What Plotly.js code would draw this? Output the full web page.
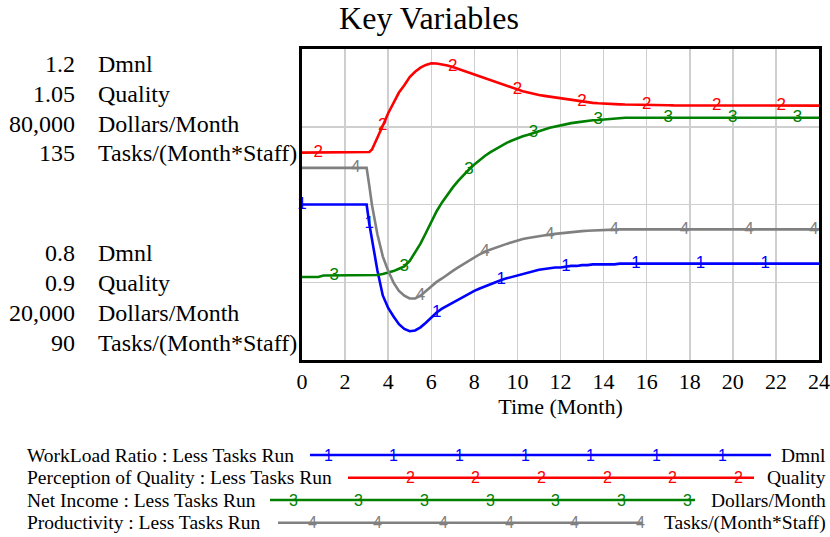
<!DOCTYPE html>
<html>
<head>
<meta charset="utf-8">
<script src="https://cdn.plot.ly/plotly-3.0.1.min.js"></script>
<style>html,body{margin:0;padding:0;background:#fff;}#chart{width:830px;height:537px;}</style>
</head>
<body>
<div id="chart"></div>
<script>
// ---- DATA ----
const time = [0,0.25,0.5,0.75, 1,1.25,1.5,1.75, 2,2.25,2.5,2.75, 3,3.125,3.25,3.5,3.75,
  4,4.25,4.5,4.75, 5,5.25,5.5,5.75, 6,6.25,6.5,6.75, 7,7.25,7.5,7.75, 8,8.25,8.5,8.75,
  9,9.25,9.5,9.75, 10,10.25,10.5,10.75, 11,11.25,11.5,11.75, 12,12.25,12.5,12.75,
  13,13.25,13.5,13.75, 14,14.25,14.5,14.75, 15,15.25,15.5,15.75, 16,16.25,16.5,16.75,
  17,17.25,17.5,17.75, 18,18.25,18.5,18.75, 19,19.25,19.5,19.75, 20,20.25,20.5,20.75,
  21,21.25,21.5,21.75, 22,22.25,22.5,22.75, 23,23.25,23.5,23.75, 24];

const workloadRatio = [1,1,1,1, 1,1,1,1, 1,1,1,1, 1,0.975,0.954,0.915,0.883,
  0.867,0.856,0.846,0.840, 0.837,0.838,0.842,0.848, 0.855,0.861,0.866,0.870,
  0.874,0.877,0.881,0.885, 0.889,0.892,0.895,0.898, 0.900,0.903,0.905,0.907,
  0.909,0.911,0.913,0.914, 0.916,0.917,0.918,0.919, 0.919,0.920,0.921,0.921,
  0.922,0.922,0.923,0.923, 0.923,0.923,0.923,0.924, 0.924,0.924,0.924,0.924,
  0.924,0.924,0.924,0.924, 0.924,0.924,0.924,0.924, 0.924,0.924,0.924,0.924,
  0.924,0.924,0.924,0.924, 0.924,0.924,0.924,0.924, 0.924,0.924,0.924,0.924,
  0.924,0.924,0.924,0.924, 0.924,0.924,0.924,0.924, 0.924];

const perceivedQuality = [1,1,1,1, 1,1,1,1, 1,1,1,1, 1,1.0003,1.0015,1.007,1.013,
  1.019,1.024,1.029,1.0325, 1.0365,1.039,1.041,1.0423, 1.0431,1.043,1.0426,1.042,
  1.0413,1.0404,1.0393,1.0383, 1.0375,1.0366,1.0358,1.035, 1.0341,1.0331,1.0322,1.0312,
  1.0303,1.0296,1.029,1.0283, 1.0278,1.0274,1.027,1.0266, 1.0262,1.0258,1.0254,1.025,
  1.0247,1.0243,1.024,1.0238, 1.0236,1.0235,1.0234,1.0233, 1.0232,1.0232,1.0231,1.0231,
  1.023,1.023,1.023,1.0229, 1.0229,1.0228,1.0228,1.0228, 1.0227,1.0227,1.0227,1.0227,
  1.0227,1.0227,1.0227,1.0227, 1.0227,1.0227,1.0227,1.0227, 1.0227,1.0227,1.0227,1.0227,
  1.0227,1.0227,1.0227,1.0227, 1.0227,1.0227,1.0227,1.0227, 1.0227];

const netIncome = [36000,36000,36000,36000, 36300,36300,36300,36300, 36300,36300,36300,36300,
  36300,36300,36300,36400,36600,
  36850,37150,37600,38050, 39100,40700,42450,44500, 46600,48700,50400,51900,
  53300,54550,55700,56750, 57700,58600,59400,60100, 60750,61350,61900,62350,
  62800,63150,63450,63750, 64100,64450,64800,65050, 65300,65500,65700,65850,
  66000,66150,66250,66300, 66400,66450,66500,66600, 66750,66750,66750,66750,
  66750,66750,66750,66750, 66750,66750,66750,66750, 66750,66750,66750,66750,
  66750,66750,66750,66750, 66750,66750,66750,66750, 66750,66750,66750,66750,
  66750,66750,66750,66750, 66750,66750,66750,66750, 66750];

const productivity = [117.8,117.8,117.8,117.8, 117.8,117.8,117.8,117.8, 117.8,117.8,117.8,117.8,
  117.8,115.2,112.4,108.2,105.0,
  102.9,101.2,100.0,99.3, 98.9,98.9,99.3,100.0, 100.7,101.3,101.8,102.4,
  102.9,103.4,103.9,104.4, 104.9,105.3,105.7,106.0, 106.3,106.6,106.8,107.05,
  107.3,107.5,107.65,107.8, 107.95,108.05,108.15,108.25, 108.35,108.45,108.5,108.6,
  108.65,108.7,108.75,108.8, 108.8,108.85,108.85,108.9, 108.9,108.9,108.9,108.9,
  108.9,108.9,108.9,108.9, 108.9,108.9,108.9,108.9, 108.9,108.9,108.9,108.9,
  108.9,108.9,108.9,108.9, 108.9,108.9,108.9,108.9, 108.9,108.9,108.9,108.9,
  108.9,108.9,108.9,108.9, 108.9,108.9,108.9,108.9, 108.9];

const seriesNames = ["WorkLoad Ratio : Less Tasks Run", "Perception of Quality : Less Tasks Run",
  "Net Income : Less Tasks Run", "Productivity : Less Tasks Run"];
const seriesUnits = ["Dmnl", "Quality", "Dollars/Month", "Tasks/(Month*Staff)"];
const seriesTags = ["1", "2", "3", "4"];
const axisMax = [1.2, 1.05, 80000, 135];
const axisMin = [0.8, 0.9, 20000, 90];
const axisMaxLabels = ["1.2", "1.05", "80,000", "135"];
const axisMinLabels = ["0.8", "0.9", "20,000", "90"];
const markTimes = [
  [0, 3.125, 6.25, 9.25, 12.25, 15.5, 18.5, 21.5],
  [0.75, 3.75, 7, 10, 13, 16, 19.25, 22.25],
  [1.5, 4.75, 7.75, 10.75, 13.75, 17, 20, 23],
  [2.5, 5.5, 8.5, 11.5, 14.5, 17.75, 20.75, 23.75]
];
const xTicks = [0,2,4,6,8,10,12,14,16,18,20,22,24];

// ---- STYLE ----
const colors = ["#0000ff", "#ff0000", "#008000", "#808080"];
const serif = "Liberation Serif";
const sans = "Liberation Sans";
const values = [workloadRatio, perceivedQuality, netIncome, productivity];
const yRefs = ["y", "y2", "y3", "y4"];

// plot area in pixels
const L = 302, R = 819, T = 49, B = 360;
const PX = p => (p - L) / (R - L);
const PY = p => (B - p) / (B - T);

const traces = [];
for (let k = 0; k < 4; k++) {
  traces.push({
    x: time, y: values[k], type: "scatter", mode: "lines",
    line: {color: colors[k], width: 2.6},
    yaxis: yRefs[k], hoverinfo: "skip", showlegend: false
  });
}
for (let k = 0; k < 4; k++) {
  traces.push({
    x: markTimes[k],
    y: markTimes[k].map(t => values[k][time.indexOf(t)]),
    type: "scatter", mode: "text",
    text: markTimes[k].map(() => seriesTags[k]),
    textposition: "middle center",
    textfont: {family: sans, size: 17, color: colors[k]},
    cliponaxis: false,
    yaxis: yRefs[k], hoverinfo: "skip", showlegend: false
  });
}

const annotations = [];
const shapes = [];
// left axis labels
const topY = [64, 94, 123.5, 153];
const botY = [253, 283, 313, 343];
for (let k = 0; k < 4; k++) {
  annotations.push({xref: "paper", yref: "paper", x: PX(77), y: PY(topY[k]), xanchor: "right", yanchor: "middle",
    text: axisMaxLabels[k], showarrow: false, font: {family: serif, size: 24, color: "#000"}});
  annotations.push({xref: "paper", yref: "paper", x: PX(96), y: PY(topY[k]), xanchor: "left", yanchor: "middle",
    text: seriesUnits[k], showarrow: false, font: {family: serif, size: 24, color: "#000"}});
  annotations.push({xref: "paper", yref: "paper", x: PX(77), y: PY(botY[k]), xanchor: "right", yanchor: "middle",
    text: axisMinLabels[k], showarrow: false, font: {family: serif, size: 24, color: "#000"}});
  annotations.push({xref: "paper", yref: "paper", x: PX(96), y: PY(botY[k]), xanchor: "left", yanchor: "middle",
    text: seriesUnits[k], showarrow: false, font: {family: serif, size: 24, color: "#000"}});
}
// bottom legend
const legY = [455, 477.7, 500, 522.7];
const legStart = [310, 348, 270, 278];
const legEnd = [771, 754, 695, 643];
const legFirst = [328, 410, 293, 312];
for (let k = 0; k < 4; k++) {
  annotations.push({xref: "paper", yref: "paper", x: PX(25), y: PY(legY[k]), xanchor: "left", yanchor: "middle",
    text: seriesNames[k], showarrow: false, font: {family: serif, size: 19.5, color: "#000"}});
  annotations.push({xref: "paper", yref: "paper", x: PX(828), y: PY(legY[k]), xanchor: "right", yanchor: "middle",
    text: seriesUnits[k], showarrow: false, font: {family: serif, size: 19.5, color: "#000"}});
  shapes.push({type: "line", xref: "paper", yref: "paper", x0: PX(legStart[k]), x1: PX(legEnd[k]),
    y0: PY(legY[k]), y1: PY(legY[k]), line: {color: colors[k], width: 2.6}});
  for (let p = legFirst[k]; p < legEnd[k] + 2; p += 65.7) {
    annotations.push({xref: "paper", yref: "paper", x: PX(p), y: PY(legY[k]), xanchor: "center", yanchor: "middle",
      text: seriesTags[k], showarrow: false, font: {family: sans, size: 16, color: colors[k]}});
  }
}

const hidden = {overlaying: "y", visible: false, showgrid: false, zeroline: false, fixedrange: true};
const layout = {
  width: 830, height: 537,
  margin: {l: L, r: 830 - R, t: T, b: 537 - B, pad: 0},
  paper_bgcolor: "#ffffff", plot_bgcolor: "#ffffff",
  showlegend: false,
  title: {text: "Key Variables", x: 429 / 830, xanchor: "center", xref: "container",
    y: 1 - 18 / 537, yanchor: "middle", yref: "container",
    font: {family: serif, size: 32, color: "#000"}},
  xaxis: {range: [0, 24], tickvals: xTicks, ticktext: xTicks.map(String), ticks: "",
    showgrid: true, gridcolor: "#cfcfcf", gridwidth: 1.5, zeroline: false,
    showline: true, mirror: true, linecolor: "#000", linewidth: 3,
    tickfont: {family: serif, size: 22, color: "#000"},
    title: {text: "Time (Month)", font: {family: serif, size: 22, color: "#000"}, standoff: 4}},
  yaxis: {range: [axisMin[0], axisMax[0]], tick0: 0.8, dtick: 0.1, showticklabels: false, ticks: "",
    showgrid: true, gridcolor: "#cfcfcf", gridwidth: 1.5, zeroline: false,
    showline: true, mirror: true, linecolor: "#000", linewidth: 3},
  yaxis2: Object.assign({range: [axisMin[1], axisMax[1]]}, hidden),
  yaxis3: Object.assign({range: [axisMin[2], axisMax[2]]}, hidden),
  yaxis4: Object.assign({range: [axisMin[3], axisMax[3]]}, hidden),
  annotations: annotations,
  shapes: shapes
};

Plotly.newPlot("chart", traces, layout, {staticPlot: true, displayModeBar: false});
</script>
</body>
</html>
